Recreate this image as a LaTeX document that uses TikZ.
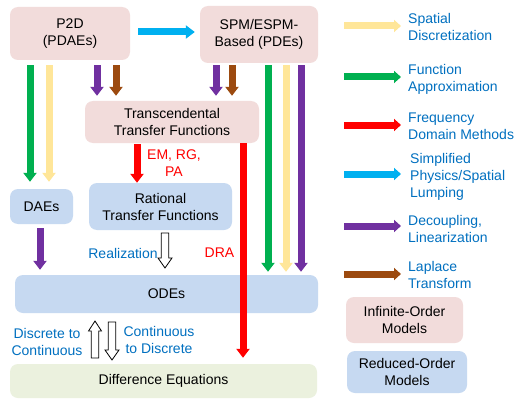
\documentclass[tikz,border=0pt]{standalone}
\usepackage{fontspec}
\setmainfont{Liberation Sans}
\usetikzlibrary{arrows.meta}
\definecolor{pinkbox}{RGB}{242,220,219}
\definecolor{bluebox}{RGB}{198,217,241}
\definecolor{greenbox}{RGB}{235,241,222}
\definecolor{cG}{RGB}{0,176,80}
\definecolor{cY}{RGB}{255,230,153}
\definecolor{cR}{RGB}{255,0,0}
\definecolor{cC}{RGB}{0,176,240}
\definecolor{cP}{RGB}{112,48,160}
\definecolor{cB}{RGB}{156,74,15}
\definecolor{tblue}{RGB}{0,112,192}
\newcommand\hdown[3]{\draw[hollow] ({#1-3.8},#2) -- ({#1+3.8},#2) -- ({#1+3.8},{#3-10}) -- ({#1+7},{#3-10}) -- (#1,#3) -- ({#1-7},{#3-10}) -- ({#1-3.8},{#3-10}) -- cycle;}
\newcommand\hup[3]{\draw[hollow] ({#1-3.8},#3) -- ({#1+3.8},#3) -- ({#1+3.8},{#2+10}) -- ({#1+6.5},{#2+10}) -- (#1,#2) -- ({#1-6.5},{#2+10}) -- ({#1-3.8},{#2+10}) -- cycle;}
\begin{document}
\begin{tikzpicture}[x=1pt,y=-1pt,
  font=\fontsize{14}{17}\selectfont,
  box/.style={rounded corners=8pt, inner sep=0pt, align=center, draw=none},
  inf/.style={box, fill=pinkbox},
  red/.style={box, fill=bluebox},
  dif/.style={box, fill=greenbox},
  barrow/.style={line width=7pt, -{Triangle[width=13pt,length=9pt]}},
  larrow/.style={line width=7pt, -{Triangle[width=12pt,length=7pt]}},
  hollow/.style={draw=black, fill=white, line width=0.8pt, line join=miter},
  leg/.style={anchor=west, align=left, inner sep=0pt, text=tblue},
  lab/.style={align=center, inner sep=0pt}]
\useasboundingbox (0,0) rectangle (516,409);
\fill[white] (0,0) rectangle (516,409);
% boxes
\node[inf, minimum width=120pt, minimum height=53pt] (p2d) at (70,33.5) {P2D\\(PDAEs)};
\node[inf, minimum width=118pt, minimum height=57pt] (spm) at (259,34.5) {SPM/ESPM-\\Based (PDEs)};
\node[inf, minimum width=174pt, minimum height=42pt] (ttf) at (172,122) {Transcendental\\Transfer Functions};
\node[red, minimum width=143pt, minimum height=47pt] (rtf) at (160.5,206.5) {Rational\\Transfer Functions};
\node[red, minimum width=63pt, minimum height=35pt] (dae) at (41.5,206.5) {DAEs};
\node[red, minimum width=303pt, minimum height=38pt] (ode) at (166.5,294) {ODEs};
\node[dif, minimum width=307pt, minimum height=34pt] (deq) at (163.5,381) {Difference Equations};
\node[inf, minimum width=117pt, minimum height=46pt] (linf) at (404.5,320) {Infinite-Order\\Models};
\node[red, minimum width=120pt, minimum height=42pt] (lred) at (407,372) {Reduced-Order\\Models};
% arrows
\draw[barrow, cC, shorten <=8pt, shorten >=5pt] (p2d.east |- 0,32) -- (spm.west |- 0,32);
\draw[barrow, cG, shorten <=5pt, shorten >=7pt] (p2d.south -| 30,0) -- (dae.north -| 30,0);
\draw[barrow, cY, shorten <=5pt, shorten >=7pt] (p2d.south -| 49,0) -- (dae.north -| 49,0);
\draw[barrow, cP, shorten <=5pt, shorten >=5pt] (p2d.south -| 97,0) -- (ttf.north -| 97,0);
\draw[barrow, cB, shorten <=5pt, shorten >=5pt] (p2d.south -| 116,0) -- (ttf.north -| 116,0);
\draw[barrow, cP, shorten <=2pt, shorten >=5pt] (spm.south -| 216,0) -- (ttf.north -| 216,0);
\draw[barrow, cB, shorten <=2pt, shorten >=5pt] (spm.south -| 232,0) -- (ttf.north -| 232,0);
\draw[barrow, cG, shorten <=2pt, shorten >=3pt] (spm.south -| 268,0) -- (ode.north -| 268,0);
\draw[barrow, cY, shorten <=2pt, shorten >=3pt] (spm.south -| 286,0) -- (ode.north -| 286,0);
\draw[barrow, cP, shorten <=2pt, shorten >=3pt] (spm.south -| 301,0) -- (ode.north -| 301,0);
\draw[barrow, cR, shorten <=1pt] (ttf.south -| 137,0) -- (rtf.north -| 137,0);
\draw[barrow, cP, shorten <=4pt, shorten >=5pt] (dae.south -| 40,0) -- (ode.north -| 40,0);
\draw[barrow, cR, shorten >=6pt] (ttf.south -| 243,0) -- (deq.north -| 243,0);
% hollow arrows
\hdown{165}{233}{268}
\hup{95}{321}{358}
\hdown{112}{322}{360}
% labels
\node[lab, text=cR] (emrg) at (174,163.5) {EM, RG,\\PA};
\node[lab, text=tblue] (real) at (123,253) {Realization};
\node[lab, text=cR] (dra) at (219.5,253) {DRA};
\node[lab, text=tblue] (d2c) at (47,341.5) {Discrete to\\Continuous};
\node[lab, text=tblue] (c2d) at (159,340) {Continuous\\to Discrete};
% legend
\coordinate (l1a) at (344,26); \coordinate (l1b) at (401,26);
\coordinate (l2a) at (344,77); \coordinate (l2b) at (401,77);
\coordinate (l3a) at (344,125); \coordinate (l3b) at (401,125);
\coordinate (l4a) at (344,174); \coordinate (l4b) at (401,174);
\coordinate (l5a) at (344,226); \coordinate (l5b) at (401,226);
\coordinate (l6a) at (344,274); \coordinate (l6b) at (401,274);
\draw[larrow, cY] (l1a) -- (l1b);
\draw[larrow, cG] (l2a) -- (l2b);
\draw[larrow, cR] (l3a) -- (l3b);
\draw[larrow, cC] (l4a) -- (l4b);
\draw[larrow, cP] (l5a) -- (l5b);
\draw[larrow, cB] (l6a) -- (l6b);
\node[leg] (t1) at (408,27) {Spatial\\Discretization};
\node[leg] (t2) at (408,79.5) {Function\\Approximation};
\node[leg] (t3) at (408,126.5) {Frequency\\Domain Methods};
\node[leg] (t4) at (410,176.5) {Simplified\\Physics/Spatial\\Lumping};
\node[leg] (t5) at (408,229) {Decoupling,\\Linearization};
\node[leg] (t6) at (408,274.5) {Laplace\\Transform};
\end{tikzpicture}
\end{document}
